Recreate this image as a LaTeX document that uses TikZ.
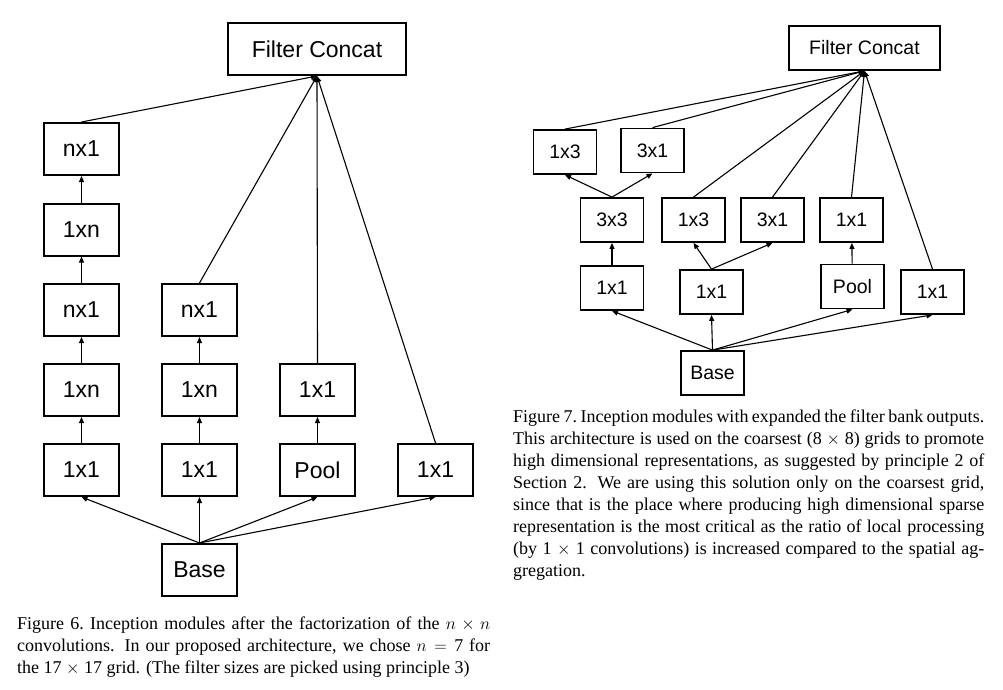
\documentclass[tikz,border=0pt]{standalone}
\usepackage{fontspec}
\setmainfont{Liberation Serif}
\newfontfamily\boxfont{Liberation Sans}
\usetikzlibrary{arrows.meta}
\begin{document}
\begin{tikzpicture}[x=1pt,y=-1pt,
  boxL/.style={draw, line width=2pt, minimum width=75pt, minimum height=52pt, inner sep=0pt,
    font=\boxfont\fontsize{23}{23}\selectfont},
  boxR/.style={draw, line width=1.8pt, minimum width=63pt, minimum height=44pt, inner sep=0pt,
    font=\boxfont\fontsize{19.5}{19.5}\selectfont},
  conn/.style={line width=1.1pt, -{Triangle[length=6pt,width=5pt]}},
  captext/.style={anchor=north west, inner sep=0pt, align=justify,
    font=\fontsize{18}{22}\selectfont}
]
\useasboundingbox (0,0) rectangle (1003,690);
% ---------- Figure 6 ----------
\node[boxL, minimum width=178pt] (fcL) at (317,49) {Filter Concat};
\node[boxL] (a1) at (81.5,470) {1x1};
\node[boxL] (a2) at (81.5,390) {1xn};
\node[boxL] (a3) at (81.5,310) {nx1};
\node[boxL] (a4) at (81.5,229.5) {1xn};
\node[boxL] (a5) at (81.5,149) {nx1};
\node[boxL] (b1) at (199.5,470) {1x1};
\node[boxL] (b2) at (199.5,390) {1xn};
\node[boxL] (b3) at (199.5,310) {nx1};
\node[boxL] (c1) at (317.5,470) {Pool};
\node[boxL] (c2) at (317.5,390) {1x1};
\node[boxL] (d1) at (435.5,470) {1x1};
\node[boxL] (baseL) at (199.5,570) {Base};
\draw[conn] (baseL.north) -- (a1.south);
\draw[conn] (baseL.north) -- (b1.south);
\draw[conn] (baseL.north) -- (c1.south);
\draw[conn] (baseL.north) -- (d1.south);
\draw[conn] (a1) -- (a2);
\draw[conn] (a2) -- (a3);
\draw[conn] (a3) -- (a4);
\draw[conn] (a4) -- (a5);
\draw[conn] (b1) -- (b2);
\draw[conn] (b2) -- (b3);
\draw[conn] (c1) -- (c2);
\draw[conn] (a5.north) -- (fcL.south);
\draw[conn] (b3.north) -- (fcL.south);
\draw[conn] (c2.north) -- (fcL.south);
\draw[conn] (d1.north) -- (fcL.south);
\node[captext, text width=473pt] (capL) at (17,617) {Figure 6.\ Inception modules after the factorization of the $n\times n$\linebreak
convolutions.  In our proposed architecture, we chose $n={}$7 for\linebreak
the 17 $\times$ 17 grid. (The filter sizes are picked using principle 3)};
% ---------- Figure 7 ----------
\node[boxR, minimum width=151pt] (fcR) at (864.5,48) {Filter Concat};
\node[boxR] (r13) at (565,152) {1x3};
\node[boxR] (r31) at (652.5,150.5) {3x1};
\node[boxR] (r33) at (612,220) {3x3};
\node[boxR] (r13b) at (693.5,220) {1x3};
\node[boxR] (r31b) at (772.5,220) {3x1};
\node[boxR] (r11p) at (851.5,220) {1x1};
\node[boxR] (r11a) at (612,288) {1x1};
\node[boxR] (r11b) at (711.5,292) {1x1};
\node[boxR] (rpool) at (852.5,286.5) {Pool};
\node[boxR] (r11c) at (932.5,292) {1x1};
\node[boxR] (baseR) at (712.5,373) {Base};
\draw[conn] (baseR.north) -- (r11a.south);
\draw[conn] (baseR.north) -- (r11b.south);
\draw[conn] (baseR.north) -- (rpool.south);
\draw[conn] (baseR.north) -- (r11c.south);
\draw[conn] (r11a) -- (r33);
\draw[conn] (r11b.north) -- (r13b.south);
\draw[conn] (r11b.north) -- (r31b.south);
\draw[conn] (rpool) -- (r11p);
\draw[conn] (r33.north) -- (r13.south);
\draw[conn] (r33.north) -- (r31.south);
\draw[conn] (r13.north) -- (fcR.south);
\draw[conn] (r31.north) -- (fcR.south);
\draw[conn] (r13b.north) -- (fcR.south);
\draw[conn] (r31b.north) -- (fcR.south);
\draw[conn] (r11p.north) -- (fcR.south);
\draw[conn] (r11c.north) -- (fcR.south);
\node[captext, text width=471pt] (capR) at (513,410) {Figure 7.\ Inception modules with expanded the filter bank outputs.\linebreak
This architecture is used on the coarsest (8 $\times$ 8) grids to promote\linebreak
high dimensional representations, as suggested by principle 2 of\linebreak
Section 2.  We are using this solution only on the coarsest grid,\linebreak
since that is the place where producing high dimensional sparse\linebreak
representation is the most critical as the ratio of local processing\linebreak
(by 1 $\times$ 1 convolutions) is increased compared to the spatial ag-\linebreak
gregation.};
\end{tikzpicture}
\end{document}
